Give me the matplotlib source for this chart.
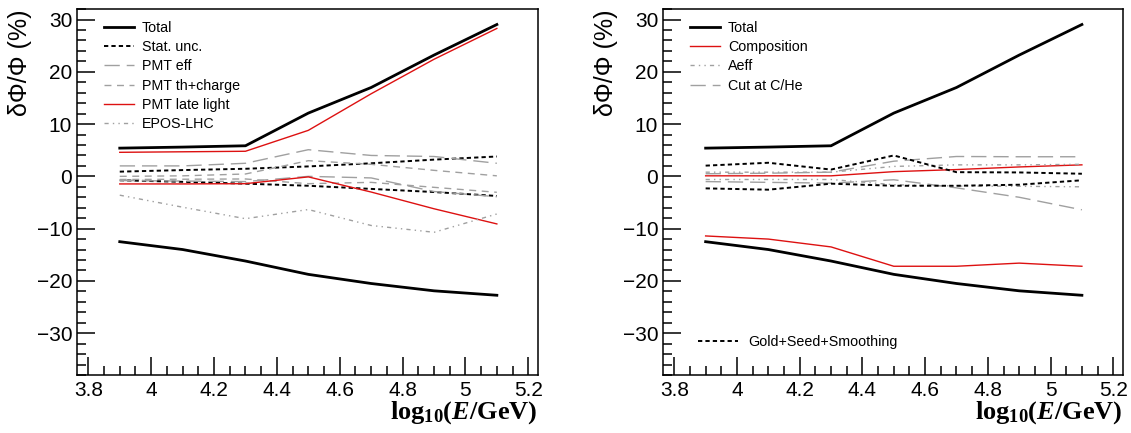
import numpy as np
import matplotlib
matplotlib.use("Agg")
import matplotlib.pyplot as plt
from matplotlib.ticker import MultipleLocator, FormatStrFormatter

plt.rcParams["font.family"] = ["Liberation Sans", "DejaVu Sans"]
plt.rcParams["mathtext.fontset"] = "custom"
plt.rcParams["mathtext.rm"] = "Liberation Serif:bold"
plt.rcParams["mathtext.it"] = "Liberation Serif:bold:italic"
plt.rcParams["mathtext.bf"] = "Liberation Serif:bold"

# Energy bins, log10(E/GeV)
logE = [3.9, 4.1, 4.3, 4.5, 4.7, 4.9, 5.1]

# Total systematic band (same in both panels)
total_up = [5.4, 5.6, 5.85, 12.1, 17.0, 23.2, 29.05]
total_lo = [-12.5, -14.0, -16.2, -18.75, -20.5, -21.9, -22.75]

# Left panel contributions
stat_up = [0.9, 1.2, 1.45, 1.9, 2.5, 3.2, 3.8]
stat_lo = [-0.75, -1.05, -1.4, -1.8, -2.4, -3.0, -3.75]
pmteff_up = [2.0, 2.0, 2.5, 5.1, 4.0, 3.8, 2.5]
pmteff_lo = [-0.8, -0.9, -1.0, 0.0, -0.3, -2.9, -3.9]
pmtth_up = [0.0, 0.1, 0.45, 3.0, 2.3, 1.15, 0.1]
pmtth_lo = [-0.6, -0.55, -0.5, -1.4, -1.15, -2.1, -3.05]
late_up = [4.6, 4.7, 4.8, 8.8, 15.8, 22.4, 28.3]
late_lo = [-1.45, -1.45, -1.4, -0.1, -3.0, -6.2, -9.1]
epos = [-3.6, -5.9, -8.1, -6.35, -9.4, -10.7, -7.2]

# Right panel contributions
comp_up = [0.1, 0.1, 0.1, 0.9, 1.3, 1.8, 2.2]
comp_lo = [-11.4, -12.0, -13.5, -17.2, -17.2, -16.6, -17.2]
aeff_up = [0.8, 0.8, 0.8, 1.9, 2.2, 2.2, 2.3]
aeff_lo = [-0.6, -0.6, -0.6, -1.6, -1.85, -1.9, -2.0]
cut_up = [0.5, 0.6, 0.8, 2.9, 3.8, 3.75, 3.75]
cut_lo = [-1.0, -1.15, -1.3, -0.65, -2.2, -4.0, -6.4]
gold_up = [2.05, 2.6, 1.3, 4.0, 0.8, 0.75, 0.5]
gold_lo = [-2.3, -2.55, -1.4, -1.8, -1.8, -1.6, -0.75]

red = "#dd1111"
gray = "#a0a0a0"
stat_ls = (0, (2.2, 1.6))
long_ls = (0, (11, 5))
short_ls = (0, (5, 4))
dd_ls = (0, (3, 3, 1, 3, 1, 3))

fig = plt.figure(figsize=(11.31, 4.33), dpi=100)
axL = fig.add_axes([0.0681, 0.134, 0.4076, 0.845])
axR = fig.add_axes([0.5862, 0.134, 0.4067, 0.845])


def style_axes(ax):
  ax.set_xlim(3.764, 5.231)
  ax.set_ylim(-38, 32)
  ax.xaxis.set_major_locator(MultipleLocator(0.2))
  ax.xaxis.set_minor_locator(MultipleLocator(0.05))
  ax.yaxis.set_major_locator(MultipleLocator(10))
  ax.yaxis.set_minor_locator(MultipleLocator(2))
  ax.xaxis.set_major_formatter(FormatStrFormatter("%g"))
  ax.tick_params(which="both", direction="in", top=False, right=False,
                 labelsize=15, width=1.1)
  ax.tick_params(which="major", length=13)
  ax.tick_params(which="minor", length=6.5)
  ax.tick_params(axis="x", pad=4)
  for s in ax.spines.values():
    s.set_linewidth(1.1)
  ax.set_ylabel(r"δΦ/Φ (%)", fontsize=18, loc="top", labelpad=3)
  ax.set_xlabel(r"$\mathrm{log}_{10}(E/\mathrm{GeV})$", fontsize=19,
                loc="right", labelpad=0)


# Left panel
ax = axL
ax.plot(logE, total_up, color="black", lw=2.0, label="Total")
ax.plot(logE, total_lo, color="black", lw=2.0)
ax.plot(logE, stat_up, color="black", lw=1.4, ls=stat_ls, label="Stat. unc.")
ax.plot(logE, stat_lo, color="black", lw=1.4, ls=stat_ls)
ax.plot(logE, pmteff_up, color=gray, lw=1.0, ls=long_ls, label="PMT eff")
ax.plot(logE, pmteff_lo, color=gray, lw=1.0, ls=long_ls)
ax.plot(logE, pmtth_up, color=gray, lw=1.0, ls=short_ls, label="PMT th+charge")
ax.plot(logE, pmtth_lo, color=gray, lw=1.0, ls=short_ls)
ax.plot(logE, late_up, color=red, lw=1.0, label="PMT late light")
ax.plot(logE, late_lo, color=red, lw=1.0)
ax.plot(logE, epos, color=gray, lw=1.0, ls=dd_ls, label="EPOS-LHC")
style_axes(ax)
ax.legend(loc="upper left", bbox_to_anchor=(0.0586, 0.967), frameon=False,
          fontsize=10.3, handlelength=2.1, handletextpad=0.55,
          labelspacing=0.36, borderpad=0, borderaxespad=0)

# Right panel
ax = axR
h_tot, = ax.plot(logE, total_up, color="black", lw=2.0, label="Total")
ax.plot(logE, total_lo, color="black", lw=2.0)
h_comp, = ax.plot(logE, comp_up, color=red, lw=1.0, label="Composition")
ax.plot(logE, comp_lo, color=red, lw=1.0)
h_aeff, = ax.plot(logE, aeff_up, color=gray, lw=1.0, ls=dd_ls, label="Aeff")
ax.plot(logE, aeff_lo, color=gray, lw=1.0, ls=dd_ls)
h_cut, = ax.plot(logE, cut_up, color=gray, lw=1.0, ls=long_ls, label="Cut at C/He")
ax.plot(logE, cut_lo, color=gray, lw=1.0, ls=long_ls)
h_gold, = ax.plot(logE, gold_up, color="black", lw=1.4, ls=stat_ls,
                  label="Gold+Seed+Smoothing")
ax.plot(logE, gold_lo, color="black", lw=1.4, ls=stat_ls)
style_axes(ax)
leg1 = ax.legend(handles=[h_tot, h_comp, h_aeff, h_cut], loc="upper left",
                 bbox_to_anchor=(0.0586, 0.967), frameon=False,
                 fontsize=10.3, handlelength=2.1, handletextpad=0.55,
                 labelspacing=0.36, borderpad=0, borderaxespad=0)
ax.add_artist(leg1)
ax.legend(handles=[h_gold], loc="center left", bbox_to_anchor=(0.076, 0.09),
          frameon=False, fontsize=10.3, handlelength=2.8, handletextpad=0.7,
          borderpad=0, borderaxespad=0)

fig.savefig("out.png", dpi=100)
